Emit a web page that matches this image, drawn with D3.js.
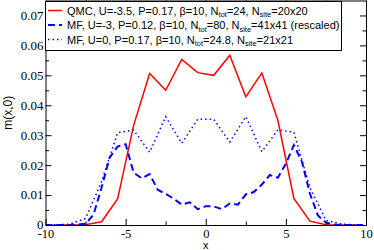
<!DOCTYPE html>
<html>
<head>
<meta charset="utf-8">
<script src="https://cdn.jsdelivr.net/npm/d3@7"></script>
<style>
  body { margin: 0; background: #fff; }
  svg { display: block; }
  .tick text { font-family: "Liberation Serif", "Times New Roman", serif; font-size: 13px; fill: #000; }
  .xax .tick text { font-size: 12.5px; }
</style>
</head>
<body>
<div id="viz"></div>
<script>
// QMC and MF(U=0) sampled on half-integer sites
const xHalf = [-9.5, -8.5, -7.5, -6.5, -5.5, -4.5, -3.5, -2.5, -1.5, -0.5,
               0.5, 1.5, 2.5, 3.5, 4.5, 5.5, 6.5, 7.5, 8.5, 9.5];
const qmc = [0, 0, 0.0001, 0.0011, 0.0087, 0.0333, 0.0506, 0.0450, 0.0553, 0.0509,
             0.0500, 0.0567, 0.0428, 0.0508, 0.0350, 0.0089, 0.0013, 0.0001, 0, 0];
const mfU0 = [0, 0.0003, 0.0022, 0.0145, 0.0308, 0.0317, 0.0243, 0.0362, 0.0273, 0.0353,
              0.0353, 0.0277, 0.0362, 0.0245, 0.0318, 0.0310, 0.0125, 0.0016, 0.0003, 0];

// MF U=-3 (41x41 rescaled) on a 0.5 grid
const xFine = d3.range(-10, 10.01, 0.5);
const mfU3 = [0, 0, 0, 0, 0.0001, 0.0004, 0.0035, 0.0125, 0.0225, 0.0262,
              0.0270, 0.0175, 0.0156, 0.0170, 0.0118, 0.0104, 0.0088, 0.0068, 0.0076, 0.0053,
              0.0063, 0.0062, 0.0053, 0.0072, 0.0068, 0.0102, 0.0110, 0.0135, 0.0167, 0.0158,
              0.0205, 0.0267, 0.0212, 0.0105, 0.0032, 0.0008, 0.0002, 0, 0, 0, 0];

const labels = [
  ['QMC, U=-3.5, P=0.17, β=10, N', 'tot', '=24, N', 'site', '=20x20'],
  ['MF, U=-3, P=0.12, β=10, N', 'tot', '=80, N', 'site', '=41x41 (rescaled)'],
  ['MF, U=0, P=0.17, β=10, N', 'tot', '=24.8, N', 'site', '=21x21']
];

const width = 374, height = 250;
const m = { top: 0.5, right: 8, bottom: 25, left: 45.5 };

const svg = d3.select('#viz').append('svg')
    .attr('width', width)
    .attr('height', height);

const x = d3.scaleLinear().domain([-10, 10]).range([m.left, width - m.right]);
const y = d3.scaleLinear().domain([0, 0.075]).range([height - m.bottom, m.top]);

const series = [
  { xs: xHalf, ys: qmc, color: '#ff0000', width: 1.5, dash: null },
  { xs: xFine, ys: mfU3, color: '#0000ff', width: 2, dash: '7,4' },
  { xs: xHalf, ys: mfU0, color: '#0000ff', width: 1.5, dash: '1.5,3' }
];

svg.append('clipPath').attr('id', 'clip')
  .append('rect')
    .attr('x', m.left).attr('y', m.top)
    .attr('width', width - m.left - m.right)
    .attr('height', height - m.top - m.bottom);

const line = d3.line().x(d => x(d[0])).y(d => y(d[1]));

svg.append('g').attr('clip-path', 'url(#clip)')
  .selectAll('path').data(series)
  .enter()
  .append('path')
    .attr('d', s => line(s.xs.map((v, i) => [v, s.ys[i]])))
    .attr('fill', 'none')
    .attr('stroke', s => s.color)
    .attr('stroke-width', s => s.width)
    .attr('stroke-dasharray', s => s.dash);

// axes with inward ticks
const xMajor = [-10, -5, 0, 5, 10];
const xMinor = [-7.5, -2.5, 2.5, 7.5];
const yMajor = [0, 0.01, 0.02, 0.03, 0.04, 0.05, 0.06, 0.07];
const yMinor = d3.range(0.005, 0.075, 0.01);

function axis(gen, scale, major, minor, tx, fmt) {
  const g = svg.append('g').attr('transform', tx);
  g.call(gen(scale).tickValues(major).tickSizeInner(-6).tickSizeOuter(0).tickFormat(fmt));
  g.append('g').call(gen(scale).tickValues(minor).tickSizeInner(-3.5).tickSizeOuter(0).tickFormat(''))
    .select('.domain').remove();
  g.selectAll('line,path').attr('stroke', '#000');
  return g;
}

const bx = axis(d3.axisBottom, x, xMajor, xMinor, `translate(0,${height - m.bottom})`, d => d)
    .attr('class', 'xax');
bx.selectAll('.tick text').attr('y', 2).attr('dy', '0.9em');
axis(d3.axisTop, x, xMajor, xMinor, `translate(0,${m.top})`, '');
const ly = axis(d3.axisLeft, y, yMajor, yMinor, `translate(${m.left},0)`, d => d === 0 ? '0' : d3.format('.2f')(d));
ly.selectAll('.tick text').attr('x', -2).attr('dy', '0.3em');
axis(d3.axisRight, y, yMajor, yMinor, `translate(${width - m.right},0)`, '');

// axis titles
svg.append('text')
    .attr('x', x(0)).attr('y', 248.5)
    .attr('text-anchor', 'middle')
    .attr('font-family', 'Liberation Sans, Arial, sans-serif')
    .attr('font-size', 11)
    .text('x');

svg.append('text')
    .attr('transform', `translate(12,${y(0.0375)}) rotate(-90)`)
    .attr('text-anchor', 'middle')
    .attr('font-family', 'Liberation Sans, Arial, sans-serif')
    .attr('font-size', 12)
    .text('m(x,0)');

// legend
const lg = svg.append('g');
lg.append('rect')
    .attr('x', m.left).attr('y', 1.5)
    .attr('width', 296).attr('height', 49)
    .attr('fill', '#fff')
    .attr('stroke', '#000')
    .attr('stroke-width', 1);

series.forEach((s, i) => {
  const yy = 10.5 + i * 14.5;
  lg.append('line')
      .attr('x1', 48).attr('x2', 62)
      .attr('y1', yy).attr('y2', yy)
      .attr('stroke', s.color)
      .attr('stroke-width', s.width)
      .attr('stroke-dasharray', s.dash);
  const t = lg.append('text')
      .attr('x', 67).attr('y', yy + 4)
      .attr('font-family', 'Liberation Sans, Arial, sans-serif')
      .attr('font-size', 11);
  labels[i].forEach((part, j) => {
    const sub = j % 2 === 1;
    t.append('tspan')
        .attr('font-size', sub ? 7.5 : 11)
        .attr('dy', sub ? 2.5 : (j > 0 ? -2.5 : 0))
        .text(part);
  });
});
</script>
</body>
</html>
